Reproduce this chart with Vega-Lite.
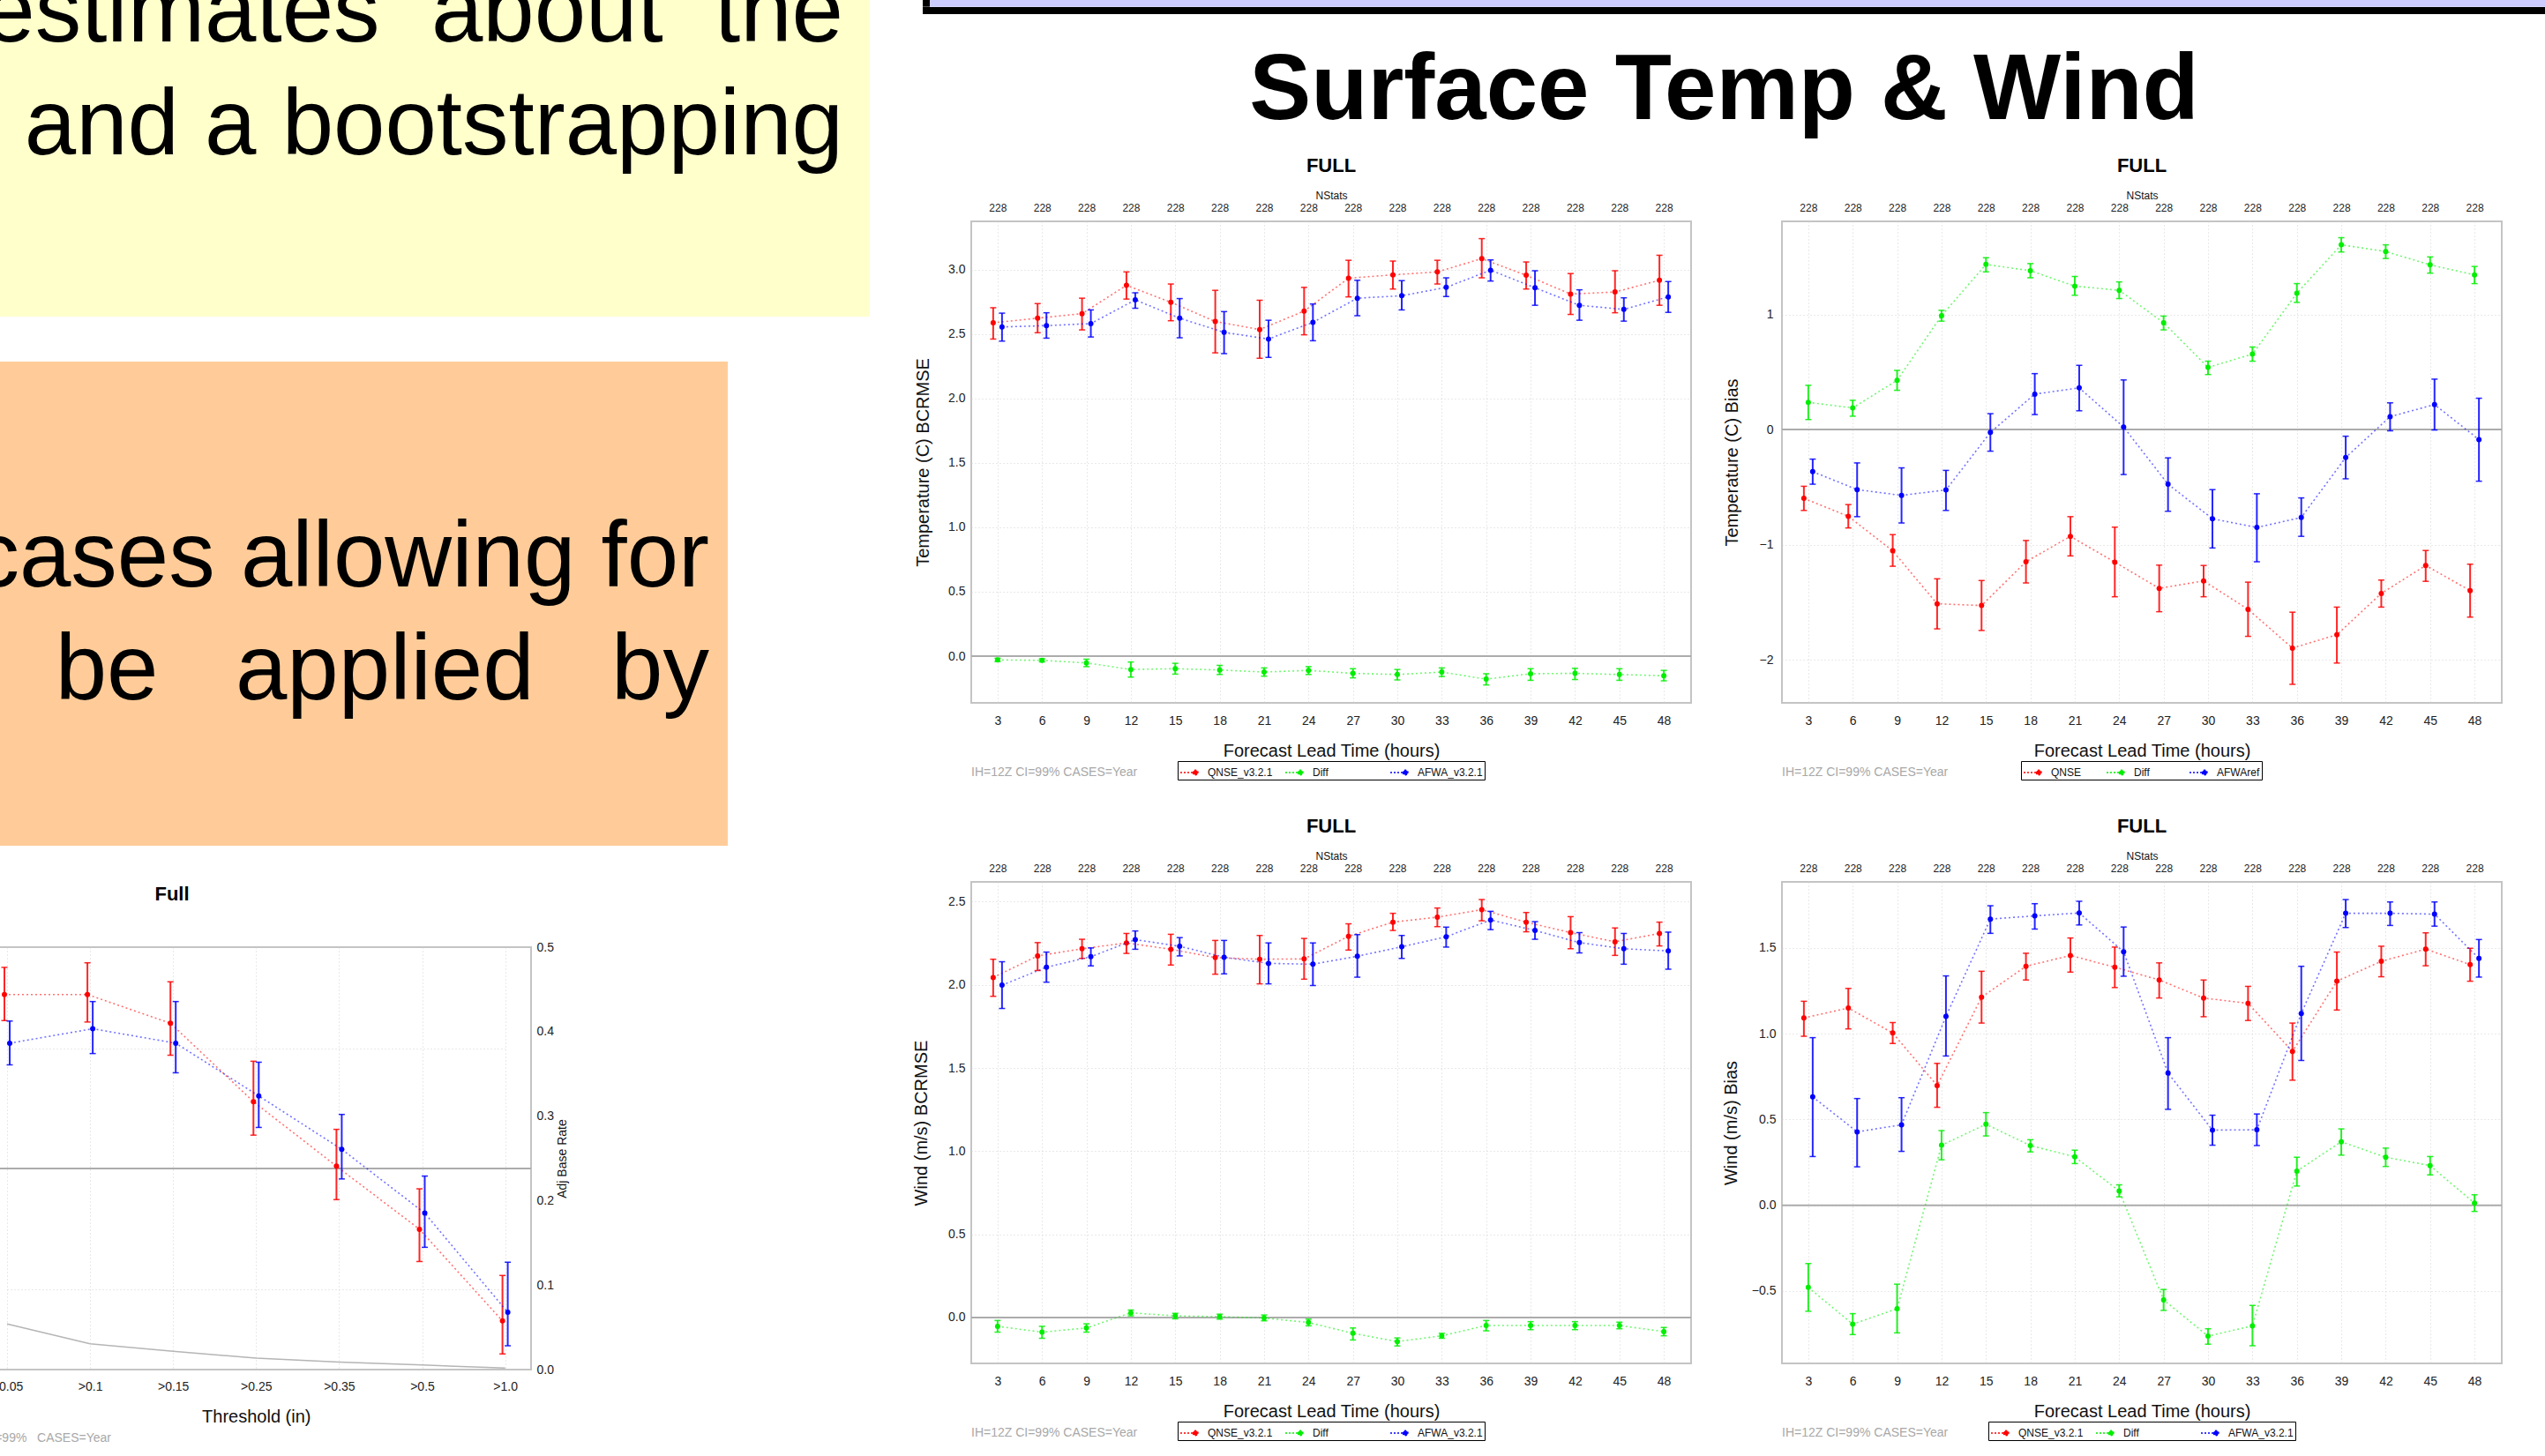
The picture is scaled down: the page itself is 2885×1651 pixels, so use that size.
{
"$schema":"https://vega.github.io/schema/vega-lite/v6.json",
"background":"white",
"padding":{"left":-214,"top":0,"right":0,"bottom":0},
"autosize":{"type":"pad"},
"config":{
 "font":"Liberation Sans",
 "view":{"stroke":"#c4c4c4","strokeWidth":2},
 "axis":{"labelFont":"Liberation Sans","titleFont":"Liberation Sans","labelColor":"#222222","titleColor":"#111111","titleFontWeight":"normal","domain":false,"ticks":false,"gridColor":"#d2d2d2","gridDash":[1,3],"gridWidth":1,"labelOverlap":false,"labelFlush":false},
 "title":{"font":"Liberation Sans","color":"#000000"},
 "legend":{"labelFont":"Liberation Sans","labelColor":"#111111"},
 "text":{"font":"Liberation Sans"}
},
"datasets":{
"p1":[
{"s":"QNSE_v3.2.1","h":3,"v":2.586,"lo":2.46,"hi":2.703},{"s":"QNSE_v3.2.1","h":6,"v":2.622,"lo":2.509,"hi":2.735},{"s":"QNSE_v3.2.1","h":9,"v":2.657,"lo":2.531,"hi":2.777},{"s":"QNSE_v3.2.1","h":12,"v":2.877,"lo":2.77,"hi":2.981},{"s":"QNSE_v3.2.1","h":15,"v":2.745,"lo":2.602,"hi":2.887},{"s":"QNSE_v3.2.1","h":18,"v":2.596,"lo":2.353,"hi":2.838},{"s":"QNSE_v3.2.1","h":21,"v":2.534,"lo":2.311,"hi":2.761},{"s":"QNSE_v3.2.1","h":24,"v":2.677,"lo":2.493,"hi":2.861},{"s":"QNSE_v3.2.1","h":27,"v":2.932,"lo":2.787,"hi":3.071},{"s":"QNSE_v3.2.1","h":30,"v":2.958,"lo":2.848,"hi":3.065},{"s":"QNSE_v3.2.1","h":33,"v":2.981,"lo":2.887,"hi":3.071},{"s":"QNSE_v3.2.1","h":36,"v":3.084,"lo":2.935,"hi":3.239},{"s":"QNSE_v3.2.1","h":39,"v":2.955,"lo":2.848,"hi":3.058},{"s":"QNSE_v3.2.1","h":42,"v":2.809,"lo":2.651,"hi":2.968},{"s":"QNSE_v3.2.1","h":45,"v":2.825,"lo":2.664,"hi":2.99},{"s":"QNSE_v3.2.1","h":48,"v":2.916,"lo":2.722,"hi":3.11},
{"s":"AFWA_v3.2.1","h":3,"v":2.554,"lo":2.444,"hi":2.661},{"s":"AFWA_v3.2.1","h":6,"v":2.564,"lo":2.467,"hi":2.664},{"s":"AFWA_v3.2.1","h":9,"v":2.58,"lo":2.476,"hi":2.686},{"s":"AFWA_v3.2.1","h":12,"v":2.764,"lo":2.699,"hi":2.819},{"s":"AFWA_v3.2.1","h":15,"v":2.622,"lo":2.47,"hi":2.774},{"s":"AFWA_v3.2.1","h":18,"v":2.512,"lo":2.347,"hi":2.673},{"s":"AFWA_v3.2.1","h":21,"v":2.46,"lo":2.318,"hi":2.606},{"s":"AFWA_v3.2.1","h":24,"v":2.59,"lo":2.447,"hi":2.732},{"s":"AFWA_v3.2.1","h":27,"v":2.777,"lo":2.641,"hi":2.916},{"s":"AFWA_v3.2.1","h":30,"v":2.796,"lo":2.686,"hi":2.913},{"s":"AFWA_v3.2.1","h":33,"v":2.861,"lo":2.79,"hi":2.935},{"s":"AFWA_v3.2.1","h":36,"v":2.994,"lo":2.91,"hi":3.074},{"s":"AFWA_v3.2.1","h":39,"v":2.858,"lo":2.722,"hi":2.99},{"s":"AFWA_v3.2.1","h":42,"v":2.722,"lo":2.606,"hi":2.842},{"s":"AFWA_v3.2.1","h":45,"v":2.69,"lo":2.599,"hi":2.78},{"s":"AFWA_v3.2.1","h":48,"v":2.787,"lo":2.667,"hi":2.906},
{"s":"Diff","h":3,"v":-0.029,"lo":-0.042,"hi":-0.016},{"s":"Diff","h":6,"v":-0.032,"lo":-0.044,"hi":-0.02},{"s":"Diff","h":9,"v":-0.052,"lo":-0.081,"hi":-0.023},{"s":"Diff","h":12,"v":-0.103,"lo":-0.162,"hi":-0.045},{"s":"Diff","h":15,"v":-0.097,"lo":-0.139,"hi":-0.055},{"s":"Diff","h":18,"v":-0.107,"lo":-0.142,"hi":-0.071},{"s":"Diff","h":21,"v":-0.123,"lo":-0.155,"hi":-0.091},{"s":"Diff","h":24,"v":-0.11,"lo":-0.142,"hi":-0.081},{"s":"Diff","h":27,"v":-0.133,"lo":-0.168,"hi":-0.097},{"s":"Diff","h":30,"v":-0.142,"lo":-0.184,"hi":-0.103},{"s":"Diff","h":33,"v":-0.123,"lo":-0.158,"hi":-0.091},{"s":"Diff","h":36,"v":-0.178,"lo":-0.223,"hi":-0.136},{"s":"Diff","h":39,"v":-0.136,"lo":-0.187,"hi":-0.097},{"s":"Diff","h":42,"v":-0.133,"lo":-0.181,"hi":-0.094},{"s":"Diff","h":45,"v":-0.142,"lo":-0.187,"hi":-0.097},{"s":"Diff","h":48,"v":-0.152,"lo":-0.191,"hi":-0.11}
],
"p2":[
{"s":"QNSE","h":3,"v":-0.598,"lo":-0.703,"hi":-0.493},{"s":"QNSE","h":6,"v":-0.754,"lo":-0.855,"hi":-0.652},{"s":"QNSE","h":9,"v":-1.054,"lo":-1.188,"hi":-0.913},{"s":"QNSE","h":12,"v":-1.514,"lo":-1.732,"hi":-1.297},{"s":"QNSE","h":15,"v":-1.529,"lo":-1.746,"hi":-1.312},{"s":"QNSE","h":18,"v":-1.149,"lo":-1.333,"hi":-0.964},{"s":"QNSE","h":21,"v":-0.928,"lo":-1.098,"hi":-0.757},{"s":"QNSE","h":24,"v":-1.152,"lo":-1.453,"hi":-0.848},{"s":"QNSE","h":27,"v":-1.38,"lo":-1.583,"hi":-1.178},{"s":"QNSE","h":30,"v":-1.315,"lo":-1.453,"hi":-1.181},{"s":"QNSE","h":33,"v":-1.562,"lo":-1.797,"hi":-1.326},{"s":"QNSE","h":36,"v":-1.899,"lo":-2.214,"hi":-1.587},{"s":"QNSE","h":39,"v":-1.783,"lo":-2.029,"hi":-1.543},{"s":"QNSE","h":42,"v":-1.424,"lo":-1.543,"hi":-1.308},{"s":"QNSE","h":45,"v":-1.181,"lo":-1.319,"hi":-1.051},{"s":"QNSE","h":48,"v":-1.399,"lo":-1.63,"hi":-1.17},
{"s":"AFWAref","h":3,"v":-0.366,"lo":-0.475,"hi":-0.257},{"s":"AFWAref","h":6,"v":-0.522,"lo":-0.757,"hi":-0.29},{"s":"AFWAref","h":9,"v":-0.572,"lo":-0.812,"hi":-0.333},{"s":"AFWAref","h":12,"v":-0.525,"lo":-0.703,"hi":-0.355},{"s":"AFWAref","h":15,"v":-0.025,"lo":-0.188,"hi":0.138},{"s":"AFWAref","h":18,"v":0.308,"lo":0.13,"hi":0.486},{"s":"AFWAref","h":21,"v":0.362,"lo":0.163,"hi":0.558},{"s":"AFWAref","h":24,"v":0.022,"lo":-0.391,"hi":0.431},{"s":"AFWAref","h":27,"v":-0.475,"lo":-0.71,"hi":-0.246},{"s":"AFWAref","h":30,"v":-0.775,"lo":-1.029,"hi":-0.522},{"s":"AFWAref","h":33,"v":-0.851,"lo":-1.149,"hi":-0.558},{"s":"AFWAref","h":36,"v":-0.764,"lo":-0.928,"hi":-0.594},{"s":"AFWAref","h":39,"v":-0.243,"lo":-0.428,"hi":-0.058},{"s":"AFWAref","h":42,"v":0.112,"lo":-0.011,"hi":0.232},{"s":"AFWAref","h":45,"v":0.217,"lo":-0.004,"hi":0.438},{"s":"AFWAref","h":48,"v":-0.087,"lo":-0.449,"hi":0.272},
{"s":"Diff","h":3,"v":0.236,"lo":0.087,"hi":0.384},{"s":"Diff","h":6,"v":0.188,"lo":0.116,"hi":0.254},{"s":"Diff","h":9,"v":0.428,"lo":0.341,"hi":0.514},{"s":"Diff","h":12,"v":0.989,"lo":0.942,"hi":1.036},{"s":"Diff","h":15,"v":1.435,"lo":1.37,"hi":1.493},{"s":"Diff","h":18,"v":1.38,"lo":1.319,"hi":1.442},{"s":"Diff","h":21,"v":1.246,"lo":1.167,"hi":1.33},{"s":"Diff","h":24,"v":1.21,"lo":1.138,"hi":1.283},{"s":"Diff","h":27,"v":0.928,"lo":0.866,"hi":0.986},{"s":"Diff","h":30,"v":0.54,"lo":0.478,"hi":0.594},{"s":"Diff","h":33,"v":0.656,"lo":0.594,"hi":0.717},{"s":"Diff","h":36,"v":1.185,"lo":1.105,"hi":1.268},{"s":"Diff","h":39,"v":1.605,"lo":1.543,"hi":1.667},{"s":"Diff","h":42,"v":1.547,"lo":1.486,"hi":1.605},{"s":"Diff","h":45,"v":1.431,"lo":1.359,"hi":1.5},{"s":"Diff","h":48,"v":1.344,"lo":1.268,"hi":1.417}
],
"p3":[
{"s":"QNSE_v3.2.1","h":3,"v":2.044,"lo":1.931,"hi":2.154},{"s":"QNSE_v3.2.1","h":6,"v":2.174,"lo":2.086,"hi":2.254},{"s":"QNSE_v3.2.1","h":9,"v":2.217,"lo":2.159,"hi":2.274},{"s":"QNSE_v3.2.1","h":12,"v":2.252,"lo":2.189,"hi":2.309},{"s":"QNSE_v3.2.1","h":15,"v":2.214,"lo":2.119,"hi":2.304},{"s":"QNSE_v3.2.1","h":18,"v":2.164,"lo":2.064,"hi":2.267},{"s":"QNSE_v3.2.1","h":21,"v":2.154,"lo":2.006,"hi":2.297},{"s":"QNSE_v3.2.1","h":24,"v":2.156,"lo":2.034,"hi":2.279},{"s":"QNSE_v3.2.1","h":27,"v":2.292,"lo":2.209,"hi":2.367},{"s":"QNSE_v3.2.1","h":30,"v":2.377,"lo":2.327,"hi":2.43},{"s":"QNSE_v3.2.1","h":33,"v":2.407,"lo":2.35,"hi":2.462},{"s":"QNSE_v3.2.1","h":36,"v":2.452,"lo":2.385,"hi":2.513},{"s":"QNSE_v3.2.1","h":39,"v":2.377,"lo":2.319,"hi":2.435},{"s":"QNSE_v3.2.1","h":42,"v":2.314,"lo":2.217,"hi":2.41},{"s":"QNSE_v3.2.1","h":45,"v":2.259,"lo":2.177,"hi":2.342},{"s":"QNSE_v3.2.1","h":48,"v":2.309,"lo":2.234,"hi":2.377},
{"s":"AFWA_v3.2.1","h":3,"v":1.998,"lo":1.858,"hi":2.139},{"s":"AFWA_v3.2.1","h":6,"v":2.106,"lo":2.016,"hi":2.197},{"s":"AFWA_v3.2.1","h":9,"v":2.169,"lo":2.114,"hi":2.222},{"s":"AFWA_v3.2.1","h":12,"v":2.272,"lo":2.214,"hi":2.324},{"s":"AFWA_v3.2.1","h":15,"v":2.232,"lo":2.174,"hi":2.284},{"s":"AFWA_v3.2.1","h":18,"v":2.166,"lo":2.066,"hi":2.267},{"s":"AFWA_v3.2.1","h":21,"v":2.129,"lo":2.006,"hi":2.252},{"s":"AFWA_v3.2.1","h":24,"v":2.124,"lo":1.996,"hi":2.252},{"s":"AFWA_v3.2.1","h":27,"v":2.172,"lo":2.046,"hi":2.302},{"s":"AFWA_v3.2.1","h":30,"v":2.229,"lo":2.159,"hi":2.297},{"s":"AFWA_v3.2.1","h":33,"v":2.289,"lo":2.227,"hi":2.347},{"s":"AFWA_v3.2.1","h":36,"v":2.39,"lo":2.332,"hi":2.442},{"s":"AFWA_v3.2.1","h":39,"v":2.327,"lo":2.274,"hi":2.38},{"s":"AFWA_v3.2.1","h":42,"v":2.254,"lo":2.192,"hi":2.314},{"s":"AFWA_v3.2.1","h":45,"v":2.217,"lo":2.124,"hi":2.309},{"s":"AFWA_v3.2.1","h":48,"v":2.204,"lo":2.094,"hi":2.317},
{"s":"Diff","h":3,"v":-0.053,"lo":-0.088,"hi":-0.018},{"s":"Diff","h":6,"v":-0.088,"lo":-0.125,"hi":-0.053},{"s":"Diff","h":9,"v":-0.063,"lo":-0.088,"hi":-0.038},{"s":"Diff","h":12,"v":0.028,"lo":0.01,"hi":0.045},{"s":"Diff","h":15,"v":0.01,"lo":-0.008,"hi":0.025},{"s":"Diff","h":18,"v":0.005,"lo":-0.01,"hi":0.02},{"s":"Diff","h":21,"v":-0.003,"lo":-0.02,"hi":0.015},{"s":"Diff","h":24,"v":-0.03,"lo":-0.05,"hi":-0.01},{"s":"Diff","h":27,"v":-0.095,"lo":-0.135,"hi":-0.063},{"s":"Diff","h":30,"v":-0.145,"lo":-0.171,"hi":-0.123},{"s":"Diff","h":33,"v":-0.11,"lo":-0.125,"hi":-0.095},{"s":"Diff","h":36,"v":-0.048,"lo":-0.08,"hi":-0.018},{"s":"Diff","h":39,"v":-0.048,"lo":-0.073,"hi":-0.025},{"s":"Diff","h":42,"v":-0.048,"lo":-0.073,"hi":-0.025},{"s":"Diff","h":45,"v":-0.048,"lo":-0.068,"hi":-0.028},{"s":"Diff","h":48,"v":-0.085,"lo":-0.11,"hi":-0.06}
],
"p4":[
{"s":"QNSE_v3.2.1","h":3,"v":1.092,"lo":0.985,"hi":1.189},{"s":"QNSE_v3.2.1","h":6,"v":1.15,"lo":1.028,"hi":1.264},{"s":"QNSE_v3.2.1","h":9,"v":1.004,"lo":0.943,"hi":1.065},{"s":"QNSE_v3.2.1","h":12,"v":0.698,"lo":0.571,"hi":0.827},{"s":"QNSE_v3.2.1","h":15,"v":1.213,"lo":1.062,"hi":1.364},{"s":"QNSE_v3.2.1","h":18,"v":1.393,"lo":1.313,"hi":1.469},{"s":"QNSE_v3.2.1","h":21,"v":1.456,"lo":1.359,"hi":1.558},{"s":"QNSE_v3.2.1","h":24,"v":1.388,"lo":1.269,"hi":1.505},{"s":"QNSE_v3.2.1","h":27,"v":1.313,"lo":1.208,"hi":1.413},{"s":"QNSE_v3.2.1","h":30,"v":1.208,"lo":1.099,"hi":1.313},{"s":"QNSE_v3.2.1","h":33,"v":1.177,"lo":1.077,"hi":1.276},{"s":"QNSE_v3.2.1","h":36,"v":0.897,"lo":0.729,"hi":1.062},{"s":"QNSE_v3.2.1","h":39,"v":1.306,"lo":1.138,"hi":1.476},{"s":"QNSE_v3.2.1","h":42,"v":1.422,"lo":1.332,"hi":1.51},{"s":"QNSE_v3.2.1","h":45,"v":1.493,"lo":1.396,"hi":1.588},{"s":"QNSE_v3.2.1","h":48,"v":1.403,"lo":1.306,"hi":1.498},
{"s":"AFWA_v3.2.1","h":3,"v":0.632,"lo":0.284,"hi":0.977},{"s":"AFWA_v3.2.1","h":6,"v":0.428,"lo":0.224,"hi":0.622},{"s":"AFWA_v3.2.1","h":9,"v":0.469,"lo":0.314,"hi":0.627},{"s":"AFWA_v3.2.1","h":12,"v":1.101,"lo":0.87,"hi":1.337},{"s":"AFWA_v3.2.1","h":15,"v":1.668,"lo":1.585,"hi":1.746},{"s":"AFWA_v3.2.1","h":18,"v":1.687,"lo":1.61,"hi":1.758},{"s":"AFWA_v3.2.1","h":21,"v":1.704,"lo":1.634,"hi":1.772},{"s":"AFWA_v3.2.1","h":24,"v":1.478,"lo":1.335,"hi":1.622},{"s":"AFWA_v3.2.1","h":27,"v":0.771,"lo":0.559,"hi":0.977},{"s":"AFWA_v3.2.1","h":30,"v":0.438,"lo":0.35,"hi":0.525},{"s":"AFWA_v3.2.1","h":33,"v":0.44,"lo":0.348,"hi":0.532},{"s":"AFWA_v3.2.1","h":36,"v":1.118,"lo":0.844,"hi":1.393},{"s":"AFWA_v3.2.1","h":39,"v":1.702,"lo":1.619,"hi":1.782},{"s":"AFWA_v3.2.1","h":42,"v":1.702,"lo":1.631,"hi":1.768},{"s":"AFWA_v3.2.1","h":45,"v":1.697,"lo":1.627,"hi":1.768},{"s":"AFWA_v3.2.1","h":48,"v":1.439,"lo":1.33,"hi":1.549},
{"s":"Diff","h":3,"v":-0.479,"lo":-0.618,"hi":-0.34},{"s":"Diff","h":6,"v":-0.693,"lo":-0.754,"hi":-0.632},{"s":"Diff","h":9,"v":-0.603,"lo":-0.744,"hi":-0.46},{"s":"Diff","h":12,"v":0.35,"lo":0.265,"hi":0.435},{"s":"Diff","h":15,"v":0.472,"lo":0.404,"hi":0.54},{"s":"Diff","h":18,"v":0.348,"lo":0.311,"hi":0.382},{"s":"Diff","h":21,"v":0.282,"lo":0.243,"hi":0.321},{"s":"Diff","h":24,"v":0.083,"lo":0.049,"hi":0.119},{"s":"Diff","h":27,"v":-0.552,"lo":-0.613,"hi":-0.491},{"s":"Diff","h":30,"v":-0.763,"lo":-0.81,"hi":-0.72},{"s":"Diff","h":33,"v":-0.703,"lo":-0.819,"hi":-0.584},{"s":"Diff","h":36,"v":0.199,"lo":0.112,"hi":0.28},{"s":"Diff","h":39,"v":0.37,"lo":0.292,"hi":0.445},{"s":"Diff","h":42,"v":0.28,"lo":0.226,"hi":0.333},{"s":"Diff","h":45,"v":0.231,"lo":0.177,"hi":0.284},{"s":"Diff","h":48,"v":0.012,"lo":-0.036,"hi":0.061}
],
"pl":[
{"s":"QNSE_v3.2.1","th":">0.05","v":1.723,"lo":1.615,"hi":1.836},{"s":"QNSE_v3.2.1","th":">0.1","v":1.723,"lo":1.609,"hi":1.855},{"s":"QNSE_v3.2.1","th":">0.15","v":1.604,"lo":1.471,"hi":1.776},{"s":"QNSE_v3.2.1","th":">0.25","v":1.278,"lo":1.139,"hi":1.446},{"s":"QNSE_v3.2.1","th":">0.35","v":1.01,"lo":0.871,"hi":1.163},{"s":"QNSE_v3.2.1","th":">0.5","v":0.748,"lo":0.614,"hi":0.916},{"s":"QNSE_v3.2.1","th":">1.0","v":0.367,"lo":0.23,"hi":0.556},
{"s":"AFWA_v3.2.1","th":">0.05","v":1.521,"lo":1.431,"hi":1.613},{"s":"AFWA_v3.2.1","th":">0.1","v":1.581,"lo":1.478,"hi":1.694},{"s":"AFWA_v3.2.1","th":">0.15","v":1.521,"lo":1.398,"hi":1.694},{"s":"AFWA_v3.2.1","th":">0.25","v":1.302,"lo":1.171,"hi":1.442},{"s":"AFWA_v3.2.1","th":">0.35","v":1.08,"lo":0.957,"hi":1.225},{"s":"AFWA_v3.2.1","th":">0.5","v":0.815,"lo":0.673,"hi":0.969},{"s":"AFWA_v3.2.1","th":">1.0","v":0.403,"lo":0.264,"hi":0.611}
],
"base":[
{"th":">0.05","r":0.054},{"th":">0.1","r":0.0305},{"th":">0.15","r":0.0216},{"th":">0.25","r":0.0135},{"th":">0.35","r":0.009},{"th":">0.5","r":0.0054},{"th":">1.0","r":0.0018}
]
},
"bounds":"full",
"spacing":35,
"resolve":{"scale":{"color":"independent"}},
"hconcat":[
{"bounds":"flush","spacing":0,"resolve":{"scale":{"color":"independent"}},"vconcat":[
 {"width":1198,"height":359,"view":{"fill":"#ffffcc","stroke":null},
  "data":{"values":[{"line":1,"t":"estimates\u00a0 about\u00a0 the"},{"line":2,"t":"and a bootstrapping"}]},
  "mark":{"type":"text","align":"right","baseline":"alphabetic","fontSize":105,"dx":-30,"clip":true,"color":"#000000"},
  "encoding":{"x":{"datum":1,"type":"quantitative","scale":{"domain":[0,1],"nice":false,"zero":false},"axis":null},
   "y":{"field":"line","type":"quantitative","scale":{"domain":[0.633,3.438],"nice":false,"zero":false,"reverse":true},"axis":null},
   "text":{"field":"t"}}},
 {"width":1,"height":51,"view":{"stroke":null},"data":{"values":[]},"mark":"point"},
 {"width":1037,"height":549,"view":{"fill":"#ffcc99","stroke":null},
  "data":{"values":[{"line":1,"t":"cases allowing for"},{"line":2,"t":"be\u00a0\u00a0 applied\u00a0\u00a0 by"}]},
  "mark":{"type":"text","align":"right","baseline":"alphabetic","fontSize":105,"dx":-21,"clip":true,"color":"#000000"},
  "encoding":{"x":{"datum":1,"type":"quantitative","scale":{"domain":[0,1],"nice":false,"zero":false},"axis":null},
   "y":{"field":"line","type":"quantitative","scale":{"domain":[-0.99,3.299],"nice":false,"zero":false,"reverse":true},"axis":null},
   "text":{"field":"t"}}},
 {"width":1,"height":115,"view":{"stroke":null},"data":{"values":[]},"mark":"point"},
 {"width":814,"height":479,
  "title":{"text":"Full","fontSize":22,"fontWeight":"bold","anchor":"middle","baseline":"alphabetic","offset":24},
  "resolve":{"scale":{"y":"independent"},"axis":{"x":"independent","y":"independent"}},
  "layer":[
   {"data":{"name":"pl"},
    "resolve":{"axis":{"x":"independent","y":"independent"}},
    "layer":[
     {"mark":{"type":"point","opacity":0},
      "encoding":{
       "x":{"field":"th","type":"ordinal","scale":{"type":"point","domain":[">0.05",">0.1",">0.15",">0.25",">0.35",">0.5",">1.0"],"range":[220,784.6],"padding":0},
            "axis":{"orient":"bottom","grid":true,"labelAngle":0,"labelFontSize":14,"labelPadding":12,"title":"Threshold (in)","titleFontSize":20,"titlePadding":17}},
       "y":{"field":"v","type":"quantitative","scale":{"domain":[0.165,1.92],"nice":false,"zero":false},"axis":{"orient":"left","values":[0.5,1.5],"labels":false,"grid":true,"title":null}}}},
     {"data":{"values":[{}]},"mark":{"type":"rule","color":"#acacac","strokeWidth":2},"encoding":{"y":{"datum":1,"type":"quantitative","axis":null}}},
     {"data":{"values":[{"t":"IH=12Z CI=99%\u00a0\u00a0 CASES=Year"}]},"mark":{"type":"text","align":"left","baseline":"middle","fontSize":14,"color":"#a8a8a8","dx":-78},
      "encoding":{"text":{"field":"t"},"x":{"datum":">0.05","type":"ordinal","axis":null},"y":{"datum":-0.12,"type":"quantitative","axis":null}}},
     {"encoding":{"x":{"field":"th","type":"ordinal","axis":null},"color":{"field":"s","type":"nominal","scale":{"domain":["QNSE_v3.2.1","AFWA_v3.2.1"],"range":["#ff0000","#0000ff"]},"legend":null}},
      "layer":[
       {"transform":[{"filter":{"field":"s","equal":"QNSE_v3.2.1"}}],"layer":[
        {"mark":{"type":"line","strokeDash":[2,3],"strokeWidth":1.6,"opacity":0.55,"xOffset":-3},"encoding":{"y":{"field":"v","type":"quantitative","axis":null}}},
        {"mark":{"type":"rule","strokeWidth":2,"opacity":0.85,"xOffset":-3},"encoding":{"y":{"field":"lo","type":"quantitative","axis":null},"y2":{"field":"hi"}}},
        {"mark":{"type":"tick","orient":"horizontal","size":7,"thickness":1.5,"opacity":0.85,"xOffset":-3},"encoding":{"y":{"field":"lo","type":"quantitative","axis":null}}},
        {"mark":{"type":"tick","orient":"horizontal","size":7,"thickness":1.5,"opacity":0.85,"xOffset":-3},"encoding":{"y":{"field":"hi","type":"quantitative","axis":null}}},
        {"mark":{"type":"point","filled":true,"size":36,"opacity":1,"xOffset":-3},"encoding":{"y":{"field":"v","type":"quantitative","axis":null}}}]},
       {"transform":[{"filter":{"field":"s","equal":"AFWA_v3.2.1"}}],"layer":[
        {"mark":{"type":"line","strokeDash":[2,3],"strokeWidth":1.6,"opacity":0.55,"xOffset":3},"encoding":{"y":{"field":"v","type":"quantitative","axis":null}}},
        {"mark":{"type":"rule","strokeWidth":2,"opacity":0.85,"xOffset":3},"encoding":{"y":{"field":"lo","type":"quantitative","axis":null},"y2":{"field":"hi"}}},
        {"mark":{"type":"tick","orient":"horizontal","size":7,"thickness":1.5,"opacity":0.85,"xOffset":3},"encoding":{"y":{"field":"lo","type":"quantitative","axis":null}}},
        {"mark":{"type":"tick","orient":"horizontal","size":7,"thickness":1.5,"opacity":0.85,"xOffset":3},"encoding":{"y":{"field":"hi","type":"quantitative","axis":null}}},
        {"mark":{"type":"point","filled":true,"size":36,"opacity":1,"xOffset":3},"encoding":{"y":{"field":"v","type":"quantitative","axis":null}}}]}
      ]}
    ]},
   {"data":{"name":"base"},"mark":{"type":"line","color":"#b5b5b5","strokeWidth":1.5},
    "encoding":{"x":{"field":"th","type":"ordinal","axis":null},
     "y":{"field":"r","type":"quantitative","scale":{"domain":[0,0.5],"nice":false,"zero":false},"axis":{"orient":"right","values":[0,0.1,0.2,0.3,0.4,0.5],"format":".1f","grid":false,"labelFontSize":14,"labelPadding":6,"title":"Adj Base Rate","titleAngle":270,"titleFontSize":14,"titlePadding":17}}}}
  ]}
]},
{"bounds":"flush","spacing":0,"align":"each","columns":7,"resolve":{"scale":{"color":"independent"}},"concat":[
 {"width":25,"height":7.7,"view":{"stroke":null},"data":{"values":[]},"mark":"point"},
 {"width":8,"height":7.7,"view":{"fill":"#000000","stroke":null},"data":{"values":[]},"mark":"point"},
 {"width":47,"height":7.7,"view":{"fill":"#ccccff","stroke":null},"data":{"values":[]},"mark":"point"},
 {"width":816,"height":7.7,"view":{"fill":"#ccccff","stroke":null},"data":{"values":[]},"mark":"point"},
 {"width":103,"height":7.7,"view":{"fill":"#ccccff","stroke":null},"data":{"values":[]},"mark":"point"},
 {"width":816,"height":7.7,"view":{"fill":"#ccccff","stroke":null},"data":{"values":[]},"mark":"point"},
 {"width":50,"height":7.7,"view":{"fill":"#ccccff","stroke":null},"data":{"values":[]},"mark":"point"},
 {"width":25,"height":8,"view":{"stroke":null},"data":{"values":[]},"mark":"point"},
 {"width":8,"height":8,"view":{"fill":"#000000","stroke":null},"data":{"values":[]},"mark":"point"},
 {"width":47,"height":8,"view":{"fill":"#000000","stroke":null},"data":{"values":[]},"mark":"point"},
 {"width":816,"height":8,"view":{"fill":"#000000","stroke":null},"data":{"values":[]},"mark":"point",
  "title":{"text":"Surface Temp & Wind","orient":"bottom","anchor":"middle","fontSize":105,"fontWeight":"bold","baseline":"alphabetic","offset":119.3,"dx":445.5}},
 {"width":103,"height":8,"view":{"fill":"#000000","stroke":null},"data":{"values":[]},"mark":"point"},
 {"width":816,"height":8,"view":{"fill":"#000000","stroke":null},"data":{"values":[]},"mark":"point"},
 {"width":50,"height":8,"view":{"fill":"#000000","stroke":null},"data":{"values":[]},"mark":"point"},
 {"width":25,"height":234.8,"view":{"stroke":null},"data":{"values":[]},"mark":"point"},
 {"width":1,"height":1,"view":{"stroke":null},"data":{"values":[]},"mark":"point"},
 {"width":1,"height":1,"view":{"stroke":null},"data":{"values":[]},"mark":"point"},
 {"width":1,"height":1,"view":{"stroke":null},"data":{"values":[]},"mark":"point"},
 {"width":1,"height":1,"view":{"stroke":null},"data":{"values":[]},"mark":"point"},
 {"width":1,"height":1,"view":{"stroke":null},"data":{"values":[]},"mark":"point"},
 {"width":1,"height":1,"view":{"stroke":null},"data":{"values":[]},"mark":"point"},
 {"width":1,"height":1,"view":{"stroke":null},"data":{"values":[]},"mark":"point"},
 {"width":1,"height":1,"view":{"stroke":null},"data":{"values":[]},"mark":"point"},
 {"width":1,"height":1,"view":{"stroke":null},"data":{"values":[]},"mark":"point"},
 {"width":816,"height":546,"data":{"name":"p1"},
  "title":{"text":"FULL","fontSize":22,"fontWeight":"bold","anchor":"middle","baseline":"alphabetic","offset":-2},
  "resolve":{"axis":{"x":"independent","y":"independent"}},
  "layer":[
   {"mark":{"type":"point","opacity":0},"encoding":{
    "x":{"field":"h","type":"quantitative","scale":{"domain":[1.22,49.84],"nice":false,"zero":false},"axis":{"orient":"bottom","values":[3,6,9,12,15,18,21,24,27,30,33,36,39,42,45,48],"format":"d","grid":true,"labelFontSize":14,"labelPadding":13,"title":"Forecast Lead Time (hours)","titleFontSize":20,"titlePadding":17}},
    "y":{"field":"v","type":"quantitative","scale":{"domain":[-0.362,3.373],"nice":false,"zero":false},"axis":{"orient":"left","values":[0,0.5,1,1.5,2,2.5,3],"format":".1f","grid":true,"labelFontSize":14,"labelPadding":7,"title":"Temperature (C) BCRMSE","titleFontSize":20,"titlePadding":18}}}},
   {"mark":{"type":"point","opacity":0},"encoding":{
    "x":{"field":"h","type":"quantitative","axis":{"orient":"top","values":[3,6,9,12,15,18,21,24,27,30,33,36,39,42,45,48],"labelExpr":"'228'","grid":false,"labelFontSize":12,"labelPadding":9,"title":"NStats","titleFontSize":12,"titlePadding":1}},
    "y":{"field":"v","type":"quantitative","axis":null}}},
   {"data":{"values":[{}]},"mark":{"type":"rule","color":"#acacac","strokeWidth":2},"encoding":{"y":{"datum":0,"type":"quantitative","axis":null}}},
   {"data":{"values":[{"t":"IH=12Z CI=99% CASES=Year"}]},"mark":{"type":"text","align":"left","baseline":"middle","fontSize":14,"color":"#a8a8a8"},
    "encoding":{"text":{"field":"t"},"x":{"datum":1.22,"type":"quantitative","axis":null},"y":{"datum":-0.904,"type":"quantitative","axis":null}}},
   {"encoding":{"x":{"field":"h","type":"quantitative","axis":null},
     "color":{"field":"s","type":"nominal","scale":{"domain":["QNSE_v3.2.1","Diff","AFWA_v3.2.1"],"range":["#ff0000","#00ee00","#0000ff"]},
      "legend":{"orient":"none","legendX":234,"legendY":612,"direction":"horizontal","title":null,"strokeColor":"#000000","fillColor":"#ffffff","padding":2,"labelFontSize":12,"labelOffset":10,"columnPadding":11,"gridAlign":"all","symbolType":"M-1,0H0.4M0.44,0A0.28,0.28,0,1,0,1,0A0.28,0.28,0,1,0,0.44,0Z","symbolSize":400,"symbolStrokeWidth":1.5,"symbolDash":[2,2],"symbolOpacity":1,
       "encode":{"symbols":{"update":{"fill":{"signal":"datum.value == 'Diff' ? '#00ee00' : ((datum.value == 'QNSE_v3.2.1' || datum.value == 'QNSE') ? '#ff0000' : '#0000ff')"},"stroke":{"signal":"datum.value == 'Diff' ? '#00ee00' : ((datum.value == 'QNSE_v3.2.1' || datum.value == 'QNSE') ? '#ff0000' : '#0000ff')"}}}}}}},
    "layer":[
     {"transform":[{"filter":{"field":"s","equal":"QNSE_v3.2.1"}}],"layer":[
      {"mark":{"type":"line","strokeDash":[2,3],"strokeWidth":1.6,"opacity":0.55,"xOffset":-5},"encoding":{"y":{"field":"v","type":"quantitative","axis":null}}},
      {"mark":{"type":"rule","strokeWidth":2,"opacity":0.85,"xOffset":-5},"encoding":{"y":{"field":"lo","type":"quantitative","axis":null},"y2":{"field":"hi"}}},
      {"mark":{"type":"tick","orient":"horizontal","size":7,"thickness":1.5,"opacity":0.85,"xOffset":-5},"encoding":{"y":{"field":"lo","type":"quantitative","axis":null}}},
      {"mark":{"type":"tick","orient":"horizontal","size":7,"thickness":1.5,"opacity":0.85,"xOffset":-5},"encoding":{"y":{"field":"hi","type":"quantitative","axis":null}}},
      {"mark":{"type":"point","filled":true,"size":36,"opacity":1,"xOffset":-5},"encoding":{"y":{"field":"v","type":"quantitative","axis":null}}}]},
     {"transform":[{"filter":{"field":"s","equal":"Diff"}}],"layer":[
      {"mark":{"type":"line","strokeDash":[2,3],"strokeWidth":1.6,"opacity":0.55},"encoding":{"y":{"field":"v","type":"quantitative","axis":null}}},
      {"mark":{"type":"rule","strokeWidth":2,"opacity":0.85},"encoding":{"y":{"field":"lo","type":"quantitative","axis":null},"y2":{"field":"hi"}}},
      {"mark":{"type":"tick","orient":"horizontal","size":7,"thickness":1.5,"opacity":0.85},"encoding":{"y":{"field":"lo","type":"quantitative","axis":null}}},
      {"mark":{"type":"tick","orient":"horizontal","size":7,"thickness":1.5,"opacity":0.85},"encoding":{"y":{"field":"hi","type":"quantitative","axis":null}}},
      {"mark":{"type":"point","filled":true,"size":36,"opacity":1},"encoding":{"y":{"field":"v","type":"quantitative","axis":null}}}]},
     {"transform":[{"filter":{"field":"s","equal":"AFWA_v3.2.1"}}],"layer":[
      {"mark":{"type":"line","strokeDash":[2,3],"strokeWidth":1.6,"opacity":0.55,"xOffset":5},"encoding":{"y":{"field":"v","type":"quantitative","axis":null}}},
      {"mark":{"type":"rule","strokeWidth":2,"opacity":0.85,"xOffset":5},"encoding":{"y":{"field":"lo","type":"quantitative","axis":null},"y2":{"field":"hi"}}},
      {"mark":{"type":"tick","orient":"horizontal","size":7,"thickness":1.5,"opacity":0.85,"xOffset":5},"encoding":{"y":{"field":"lo","type":"quantitative","axis":null}}},
      {"mark":{"type":"tick","orient":"horizontal","size":7,"thickness":1.5,"opacity":0.85,"xOffset":5},"encoding":{"y":{"field":"hi","type":"quantitative","axis":null}}},
      {"mark":{"type":"point","filled":true,"size":36,"opacity":1,"xOffset":5},"encoding":{"y":{"field":"v","type":"quantitative","axis":null}}}]}
    ]}
  ]},
 {"width":1,"height":1,"view":{"stroke":null},"data":{"values":[]},"mark":"point"},
 {"width":816,"height":546,"data":{"name":"p2"},
  "title":{"text":"FULL","fontSize":22,"fontWeight":"bold","anchor":"middle","baseline":"alphabetic","offset":-2},
  "resolve":{"axis":{"x":"independent","y":"independent"}},
  "layer":[
   {"mark":{"type":"point","opacity":0},"encoding":{
    "x":{"field":"h","type":"quantitative","scale":{"domain":[1.22,49.84],"nice":false,"zero":false},"axis":{"orient":"bottom","values":[3,6,9,12,15,18,21,24,27,30,33,36,39,42,45,48],"format":"d","grid":true,"labelFontSize":14,"labelPadding":13,"title":"Forecast Lead Time (hours)","titleFontSize":20,"titlePadding":17}},
    "y":{"field":"v","type":"quantitative","scale":{"domain":[-2.375,1.809],"nice":false,"zero":false},"axis":{"orient":"left","values":[-2,-1,0,1],"format":"d","grid":true,"labelFontSize":14,"labelPadding":10,"title":"Temperature (C) Bias","titleFontSize":20,"titlePadding":21}}}},
   {"mark":{"type":"point","opacity":0},"encoding":{
    "x":{"field":"h","type":"quantitative","axis":{"orient":"top","values":[3,6,9,12,15,18,21,24,27,30,33,36,39,42,45,48],"labelExpr":"'228'","grid":false,"labelFontSize":12,"labelPadding":9,"title":"NStats","titleFontSize":12,"titlePadding":1}},
    "y":{"field":"v","type":"quantitative","axis":null}}},
   {"data":{"values":[{}]},"mark":{"type":"rule","color":"#acacac","strokeWidth":2},"encoding":{"y":{"datum":0,"type":"quantitative","axis":null}}},
   {"data":{"values":[{"t":"IH=12Z CI=99% CASES=Year"}]},"mark":{"type":"text","align":"left","baseline":"middle","fontSize":14,"color":"#a8a8a8"},
    "encoding":{"text":{"field":"t"},"x":{"datum":1.22,"type":"quantitative","axis":null},"y":{"datum":-2.982,"type":"quantitative","axis":null}}},
   {"encoding":{"x":{"field":"h","type":"quantitative","axis":null},
     "color":{"field":"s","type":"nominal","scale":{"domain":["QNSE","Diff","AFWAref"],"range":["#ff0000","#00ee00","#0000ff"]},
      "legend":{"orient":"none","legendX":271,"legendY":612,"direction":"horizontal","title":null,"strokeColor":"#000000","fillColor":"#ffffff","padding":2,"labelFontSize":12,"labelOffset":10,"columnPadding":11,"gridAlign":"all","symbolType":"M-1,0H0.4M0.44,0A0.28,0.28,0,1,0,1,0A0.28,0.28,0,1,0,0.44,0Z","symbolSize":400,"symbolStrokeWidth":1.5,"symbolDash":[2,2],"symbolOpacity":1,
       "encode":{"symbols":{"update":{"fill":{"signal":"datum.value == 'Diff' ? '#00ee00' : ((datum.value == 'QNSE_v3.2.1' || datum.value == 'QNSE') ? '#ff0000' : '#0000ff')"},"stroke":{"signal":"datum.value == 'Diff' ? '#00ee00' : ((datum.value == 'QNSE_v3.2.1' || datum.value == 'QNSE') ? '#ff0000' : '#0000ff')"}}}}}}},
    "layer":[
     {"transform":[{"filter":{"field":"s","equal":"QNSE"}}],"layer":[
      {"mark":{"type":"line","strokeDash":[2,3],"strokeWidth":1.6,"opacity":0.55,"xOffset":-5},"encoding":{"y":{"field":"v","type":"quantitative","axis":null}}},
      {"mark":{"type":"rule","strokeWidth":2,"opacity":0.85,"xOffset":-5},"encoding":{"y":{"field":"lo","type":"quantitative","axis":null},"y2":{"field":"hi"}}},
      {"mark":{"type":"tick","orient":"horizontal","size":7,"thickness":1.5,"opacity":0.85,"xOffset":-5},"encoding":{"y":{"field":"lo","type":"quantitative","axis":null}}},
      {"mark":{"type":"tick","orient":"horizontal","size":7,"thickness":1.5,"opacity":0.85,"xOffset":-5},"encoding":{"y":{"field":"hi","type":"quantitative","axis":null}}},
      {"mark":{"type":"point","filled":true,"size":36,"opacity":1,"xOffset":-5},"encoding":{"y":{"field":"v","type":"quantitative","axis":null}}}]},
     {"transform":[{"filter":{"field":"s","equal":"Diff"}}],"layer":[
      {"mark":{"type":"line","strokeDash":[2,3],"strokeWidth":1.6,"opacity":0.55},"encoding":{"y":{"field":"v","type":"quantitative","axis":null}}},
      {"mark":{"type":"rule","strokeWidth":2,"opacity":0.85},"encoding":{"y":{"field":"lo","type":"quantitative","axis":null},"y2":{"field":"hi"}}},
      {"mark":{"type":"tick","orient":"horizontal","size":7,"thickness":1.5,"opacity":0.85},"encoding":{"y":{"field":"lo","type":"quantitative","axis":null}}},
      {"mark":{"type":"tick","orient":"horizontal","size":7,"thickness":1.5,"opacity":0.85},"encoding":{"y":{"field":"hi","type":"quantitative","axis":null}}},
      {"mark":{"type":"point","filled":true,"size":36,"opacity":1},"encoding":{"y":{"field":"v","type":"quantitative","axis":null}}}]},
     {"transform":[{"filter":{"field":"s","equal":"AFWAref"}}],"layer":[
      {"mark":{"type":"line","strokeDash":[2,3],"strokeWidth":1.6,"opacity":0.55,"xOffset":5},"encoding":{"y":{"field":"v","type":"quantitative","axis":null}}},
      {"mark":{"type":"rule","strokeWidth":2,"opacity":0.85,"xOffset":5},"encoding":{"y":{"field":"lo","type":"quantitative","axis":null},"y2":{"field":"hi"}}},
      {"mark":{"type":"tick","orient":"horizontal","size":7,"thickness":1.5,"opacity":0.85,"xOffset":5},"encoding":{"y":{"field":"lo","type":"quantitative","axis":null}}},
      {"mark":{"type":"tick","orient":"horizontal","size":7,"thickness":1.5,"opacity":0.85,"xOffset":5},"encoding":{"y":{"field":"hi","type":"quantitative","axis":null}}},
      {"mark":{"type":"point","filled":true,"size":36,"opacity":1,"xOffset":5},"encoding":{"y":{"field":"v","type":"quantitative","axis":null}}}]}
    ]}
  ]},
 {"width":1,"height":1,"view":{"stroke":null},"data":{"values":[]},"mark":"point"},
 {"width":25,"height":203,"view":{"stroke":null},"data":{"values":[]},"mark":"point"},
 {"width":1,"height":1,"view":{"stroke":null},"data":{"values":[]},"mark":"point"},
 {"width":1,"height":1,"view":{"stroke":null},"data":{"values":[]},"mark":"point"},
 {"width":1,"height":1,"view":{"stroke":null},"data":{"values":[]},"mark":"point"},
 {"width":1,"height":1,"view":{"stroke":null},"data":{"values":[]},"mark":"point"},
 {"width":1,"height":1,"view":{"stroke":null},"data":{"values":[]},"mark":"point"},
 {"width":1,"height":1,"view":{"stroke":null},"data":{"values":[]},"mark":"point"},
 {"width":1,"height":1,"view":{"stroke":null},"data":{"values":[]},"mark":"point"},
 {"width":1,"height":1,"view":{"stroke":null},"data":{"values":[]},"mark":"point"},
 {"width":1,"height":1,"view":{"stroke":null},"data":{"values":[]},"mark":"point"},
 {"width":816,"height":546,"data":{"name":"p3"},
  "title":{"text":"FULL","fontSize":22,"fontWeight":"bold","anchor":"middle","baseline":"alphabetic","offset":-2},
  "resolve":{"axis":{"x":"independent","y":"independent"}},
  "layer":[
   {"mark":{"type":"point","opacity":0},"encoding":{
    "x":{"field":"h","type":"quantitative","scale":{"domain":[1.22,49.84],"nice":false,"zero":false},"axis":{"orient":"bottom","values":[3,6,9,12,15,18,21,24,27,30,33,36,39,42,45,48],"format":"d","grid":true,"labelFontSize":14,"labelPadding":13,"title":"Forecast Lead Time (hours)","titleFontSize":20,"titlePadding":17}},
    "y":{"field":"v","type":"quantitative","scale":{"domain":[-0.276,2.619],"nice":false,"zero":false},"axis":{"orient":"left","values":[0,0.5,1,1.5,2,2.5],"format":".1f","grid":true,"labelFontSize":14,"labelPadding":7,"title":"Wind (m/s) BCRMSE","titleFontSize":20,"titlePadding":20}}}},
   {"mark":{"type":"point","opacity":0},"encoding":{
    "x":{"field":"h","type":"quantitative","axis":{"orient":"top","values":[3,6,9,12,15,18,21,24,27,30,33,36,39,42,45,48],"labelExpr":"'228'","grid":false,"labelFontSize":12,"labelPadding":9,"title":"NStats","titleFontSize":12,"titlePadding":1}},
    "y":{"field":"v","type":"quantitative","axis":null}}},
   {"data":{"values":[{}]},"mark":{"type":"rule","color":"#acacac","strokeWidth":2},"encoding":{"y":{"datum":0,"type":"quantitative","axis":null}}},
   {"data":{"values":[{"t":"IH=12Z CI=99% CASES=Year"}]},"mark":{"type":"text","align":"left","baseline":"middle","fontSize":14,"color":"#a8a8a8"},
    "encoding":{"text":{"field":"t"},"x":{"datum":1.22,"type":"quantitative","axis":null},"y":{"datum":-0.696,"type":"quantitative","axis":null}}},
   {"encoding":{"x":{"field":"h","type":"quantitative","axis":null},
     "color":{"field":"s","type":"nominal","scale":{"domain":["QNSE_v3.2.1","Diff","AFWA_v3.2.1"],"range":["#ff0000","#00ee00","#0000ff"]},
      "legend":{"orient":"none","legendX":234,"legendY":612,"direction":"horizontal","title":null,"strokeColor":"#000000","fillColor":"#ffffff","padding":2,"labelFontSize":12,"labelOffset":10,"columnPadding":11,"gridAlign":"all","symbolType":"M-1,0H0.4M0.44,0A0.28,0.28,0,1,0,1,0A0.28,0.28,0,1,0,0.44,0Z","symbolSize":400,"symbolStrokeWidth":1.5,"symbolDash":[2,2],"symbolOpacity":1,
       "encode":{"symbols":{"update":{"fill":{"signal":"datum.value == 'Diff' ? '#00ee00' : ((datum.value == 'QNSE_v3.2.1' || datum.value == 'QNSE') ? '#ff0000' : '#0000ff')"},"stroke":{"signal":"datum.value == 'Diff' ? '#00ee00' : ((datum.value == 'QNSE_v3.2.1' || datum.value == 'QNSE') ? '#ff0000' : '#0000ff')"}}}}}}},
    "layer":[
     {"transform":[{"filter":{"field":"s","equal":"QNSE_v3.2.1"}}],"layer":[
      {"mark":{"type":"line","strokeDash":[2,3],"strokeWidth":1.6,"opacity":0.55,"xOffset":-5},"encoding":{"y":{"field":"v","type":"quantitative","axis":null}}},
      {"mark":{"type":"rule","strokeWidth":2,"opacity":0.85,"xOffset":-5},"encoding":{"y":{"field":"lo","type":"quantitative","axis":null},"y2":{"field":"hi"}}},
      {"mark":{"type":"tick","orient":"horizontal","size":7,"thickness":1.5,"opacity":0.85,"xOffset":-5},"encoding":{"y":{"field":"lo","type":"quantitative","axis":null}}},
      {"mark":{"type":"tick","orient":"horizontal","size":7,"thickness":1.5,"opacity":0.85,"xOffset":-5},"encoding":{"y":{"field":"hi","type":"quantitative","axis":null}}},
      {"mark":{"type":"point","filled":true,"size":36,"opacity":1,"xOffset":-5},"encoding":{"y":{"field":"v","type":"quantitative","axis":null}}}]},
     {"transform":[{"filter":{"field":"s","equal":"Diff"}}],"layer":[
      {"mark":{"type":"line","strokeDash":[2,3],"strokeWidth":1.6,"opacity":0.55},"encoding":{"y":{"field":"v","type":"quantitative","axis":null}}},
      {"mark":{"type":"rule","strokeWidth":2,"opacity":0.85},"encoding":{"y":{"field":"lo","type":"quantitative","axis":null},"y2":{"field":"hi"}}},
      {"mark":{"type":"tick","orient":"horizontal","size":7,"thickness":1.5,"opacity":0.85},"encoding":{"y":{"field":"lo","type":"quantitative","axis":null}}},
      {"mark":{"type":"tick","orient":"horizontal","size":7,"thickness":1.5,"opacity":0.85},"encoding":{"y":{"field":"hi","type":"quantitative","axis":null}}},
      {"mark":{"type":"point","filled":true,"size":36,"opacity":1},"encoding":{"y":{"field":"v","type":"quantitative","axis":null}}}]},
     {"transform":[{"filter":{"field":"s","equal":"AFWA_v3.2.1"}}],"layer":[
      {"mark":{"type":"line","strokeDash":[2,3],"strokeWidth":1.6,"opacity":0.55,"xOffset":5},"encoding":{"y":{"field":"v","type":"quantitative","axis":null}}},
      {"mark":{"type":"rule","strokeWidth":2,"opacity":0.85,"xOffset":5},"encoding":{"y":{"field":"lo","type":"quantitative","axis":null},"y2":{"field":"hi"}}},
      {"mark":{"type":"tick","orient":"horizontal","size":7,"thickness":1.5,"opacity":0.85,"xOffset":5},"encoding":{"y":{"field":"lo","type":"quantitative","axis":null}}},
      {"mark":{"type":"tick","orient":"horizontal","size":7,"thickness":1.5,"opacity":0.85,"xOffset":5},"encoding":{"y":{"field":"hi","type":"quantitative","axis":null}}},
      {"mark":{"type":"point","filled":true,"size":36,"opacity":1,"xOffset":5},"encoding":{"y":{"field":"v","type":"quantitative","axis":null}}}]}
    ]}
  ]},
 {"width":1,"height":1,"view":{"stroke":null},"data":{"values":[]},"mark":"point"},
 {"width":816,"height":546,"data":{"name":"p4"},
  "title":{"text":"FULL","fontSize":22,"fontWeight":"bold","anchor":"middle","baseline":"alphabetic","offset":-2},
  "resolve":{"axis":{"x":"independent","y":"independent"}},
  "layer":[
   {"mark":{"type":"point","opacity":0},"encoding":{
    "x":{"field":"h","type":"quantitative","scale":{"domain":[1.22,49.84],"nice":false,"zero":false},"axis":{"orient":"bottom","values":[3,6,9,12,15,18,21,24,27,30,33,36,39,42,45,48],"format":"d","grid":true,"labelFontSize":14,"labelPadding":13,"title":"Forecast Lead Time (hours)","titleFontSize":20,"titlePadding":17}},
    "y":{"field":"v","type":"quantitative","scale":{"domain":[-0.922,1.885],"nice":false,"zero":false},"axis":{"orient":"left","values":[-0.5,0,0.5,1,1.5],"format":".1f","grid":true,"labelFontSize":14,"labelPadding":7,"title":"Wind (m/s) Bias","titleFontSize":20,"titlePadding":13}}}},
   {"mark":{"type":"point","opacity":0},"encoding":{
    "x":{"field":"h","type":"quantitative","axis":{"orient":"top","values":[3,6,9,12,15,18,21,24,27,30,33,36,39,42,45,48],"labelExpr":"'228'","grid":false,"labelFontSize":12,"labelPadding":9,"title":"NStats","titleFontSize":12,"titlePadding":1}},
    "y":{"field":"v","type":"quantitative","axis":null}}},
   {"data":{"values":[{}]},"mark":{"type":"rule","color":"#acacac","strokeWidth":2},"encoding":{"y":{"datum":0,"type":"quantitative","axis":null}}},
   {"data":{"values":[{"t":"IH=12Z CI=99% CASES=Year"}]},"mark":{"type":"text","align":"left","baseline":"middle","fontSize":14,"color":"#a8a8a8"},
    "encoding":{"text":{"field":"t"},"x":{"datum":1.22,"type":"quantitative","axis":null},"y":{"datum":-1.329,"type":"quantitative","axis":null}}},
   {"encoding":{"x":{"field":"h","type":"quantitative","axis":null},
     "color":{"field":"s","type":"nominal","scale":{"domain":["QNSE_v3.2.1","Diff","AFWA_v3.2.1"],"range":["#ff0000","#00ee00","#0000ff"]},
      "legend":{"orient":"none","legendX":234,"legendY":612,"direction":"horizontal","title":null,"strokeColor":"#000000","fillColor":"#ffffff","padding":2,"labelFontSize":12,"labelOffset":10,"columnPadding":11,"gridAlign":"all","symbolType":"M-1,0H0.4M0.44,0A0.28,0.28,0,1,0,1,0A0.28,0.28,0,1,0,0.44,0Z","symbolSize":400,"symbolStrokeWidth":1.5,"symbolDash":[2,2],"symbolOpacity":1,
       "encode":{"symbols":{"update":{"fill":{"signal":"datum.value == 'Diff' ? '#00ee00' : ((datum.value == 'QNSE_v3.2.1' || datum.value == 'QNSE') ? '#ff0000' : '#0000ff')"},"stroke":{"signal":"datum.value == 'Diff' ? '#00ee00' : ((datum.value == 'QNSE_v3.2.1' || datum.value == 'QNSE') ? '#ff0000' : '#0000ff')"}}}}}}},
    "layer":[
     {"transform":[{"filter":{"field":"s","equal":"QNSE_v3.2.1"}}],"layer":[
      {"mark":{"type":"line","strokeDash":[2,3],"strokeWidth":1.6,"opacity":0.55,"xOffset":-5},"encoding":{"y":{"field":"v","type":"quantitative","axis":null}}},
      {"mark":{"type":"rule","strokeWidth":2,"opacity":0.85,"xOffset":-5},"encoding":{"y":{"field":"lo","type":"quantitative","axis":null},"y2":{"field":"hi"}}},
      {"mark":{"type":"tick","orient":"horizontal","size":7,"thickness":1.5,"opacity":0.85,"xOffset":-5},"encoding":{"y":{"field":"lo","type":"quantitative","axis":null}}},
      {"mark":{"type":"tick","orient":"horizontal","size":7,"thickness":1.5,"opacity":0.85,"xOffset":-5},"encoding":{"y":{"field":"hi","type":"quantitative","axis":null}}},
      {"mark":{"type":"point","filled":true,"size":36,"opacity":1,"xOffset":-5},"encoding":{"y":{"field":"v","type":"quantitative","axis":null}}}]},
     {"transform":[{"filter":{"field":"s","equal":"Diff"}}],"layer":[
      {"mark":{"type":"line","strokeDash":[2,3],"strokeWidth":1.6,"opacity":0.55},"encoding":{"y":{"field":"v","type":"quantitative","axis":null}}},
      {"mark":{"type":"rule","strokeWidth":2,"opacity":0.85},"encoding":{"y":{"field":"lo","type":"quantitative","axis":null},"y2":{"field":"hi"}}},
      {"mark":{"type":"tick","orient":"horizontal","size":7,"thickness":1.5,"opacity":0.85},"encoding":{"y":{"field":"lo","type":"quantitative","axis":null}}},
      {"mark":{"type":"tick","orient":"horizontal","size":7,"thickness":1.5,"opacity":0.85},"encoding":{"y":{"field":"hi","type":"quantitative","axis":null}}},
      {"mark":{"type":"point","filled":true,"size":36,"opacity":1},"encoding":{"y":{"field":"v","type":"quantitative","axis":null}}}]},
     {"transform":[{"filter":{"field":"s","equal":"AFWA_v3.2.1"}}],"layer":[
      {"mark":{"type":"line","strokeDash":[2,3],"strokeWidth":1.6,"opacity":0.55,"xOffset":5},"encoding":{"y":{"field":"v","type":"quantitative","axis":null}}},
      {"mark":{"type":"rule","strokeWidth":2,"opacity":0.85,"xOffset":5},"encoding":{"y":{"field":"lo","type":"quantitative","axis":null},"y2":{"field":"hi"}}},
      {"mark":{"type":"tick","orient":"horizontal","size":7,"thickness":1.5,"opacity":0.85,"xOffset":5},"encoding":{"y":{"field":"lo","type":"quantitative","axis":null}}},
      {"mark":{"type":"tick","orient":"horizontal","size":7,"thickness":1.5,"opacity":0.85,"xOffset":5},"encoding":{"y":{"field":"hi","type":"quantitative","axis":null}}},
      {"mark":{"type":"point","filled":true,"size":36,"opacity":1,"xOffset":5},"encoding":{"y":{"field":"v","type":"quantitative","axis":null}}}]}
    ]}
  ]},
 {"width":1,"height":1,"view":{"stroke":null},"data":{"values":[]},"mark":"point"}
]}
]
}
